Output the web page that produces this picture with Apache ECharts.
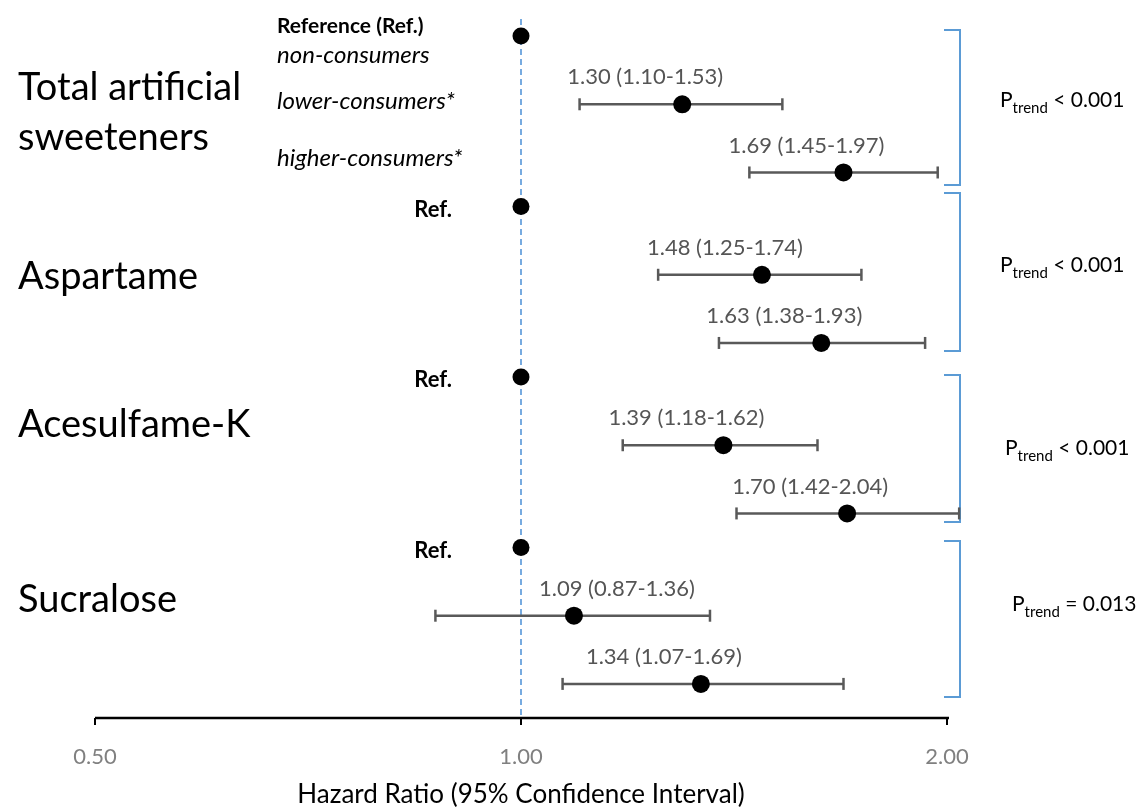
<!DOCTYPE html>
<html>
<head>
<meta charset="utf-8">
<script src="https://cdn.jsdelivr.net/npm/echarts@6/dist/echarts.min.js"></script>
<style>
html,body{margin:0;padding:0;background:#fff;}
#chart{width:1145px;height:809px;}
</style>
</head>
<body>
<div id="chart"></div>
<script>
// ---- data ----
const groups = ['Total artificial\nsweeteners', 'Aspartame', 'Acesulfame-K', 'Sucralose'];
const hrValues = [[1.30, 1.69], [1.48, 1.63], [1.39, 1.70], [1.09, 1.34]];
const ciLower  = [[1.10, 1.45], [1.25, 1.38], [1.18, 1.42], [0.87, 1.07]];
const ciUpper  = [[1.53, 1.97], [1.74, 1.93], [1.62, 2.04], [1.36, 1.69]];
const pTrend   = ['< 0.001', '< 0.001', '< 0.001', '= 0.013'];
const refValue = 1;
const xTicks = [0.5, 1, 2];
const subLabels = ['Reference (Ref.)', 'non-consumers', 'lower-consumers*', 'higher-consumers*'];
const refShort = 'Ref.';
const axisTitle = 'Hazard Ratio (95% Confidence Interval)';

// ---- layout (styles / positions) ----
const FONT = 'Lato, "Noto Sans", sans-serif';
const ROWS_PER_GROUP = 5;          // ref, lower, higher rows spaced in y units
const rowOffsets = [0, 2, 4];
const labelOffsetX = [[-37, -37], [-37, -37], [-37, -37], [43, -37]];
const groupLabelY = [113, 277, 425, 600];
const pTrendPos = [[1000, 100], [1000, 265], [1005, 448], [1012, 604]];
const bracketY = [[30, 185], [193, 351], [375, 522], [541, 697]];
const bracketX = 960, bracketHook = 16;
const axisLineEnd = 2.1;

const chart = echarts.init(document.getElementById('chart'));

const refPoints = [], estPoints = [], bars = [];
groups.forEach((g, gi) => {
  const base = gi * ROWS_PER_GROUP;
  refPoints.push([refValue, base + rowOffsets[0]]);
  for (let k = 0; k < 2; k++) {
    const row = base + rowOffsets[k + 1];
    estPoints.push({
      value: [hrValues[gi][k], row],
      lo: ciLower[gi][k], hi: ciUpper[gi][k],
      label: { offset: [labelOffsetX[gi][k], -2] }
    });
    bars.push([row, ciLower[gi][k], ciUpper[gi][k]]);
  }
});
const lastRow = (groups.length - 1) * ROWS_PER_GROUP + rowOffsets[2];

const option = {
  animation: false,
  backgroundColor: '#fff',
  grid: { left: 95, right: 198, top: 2, bottom: 91, outerBoundsMode: 'none', containLabel: false },
  xAxis: {
    type: 'log', logBase: 2, min: xTicks[0], max: xTicks[xTicks.length - 1],
    position: 'bottom',
    axisLine: { show: false, onZero: false },
    axisTick: { show: true, length: 7, lineStyle: { color: '#000', width: 2 } },
    splitLine: { show: false },
    axisLabel: {
      formatter: v => xTicks.some(t => Math.abs(t - v) < 1e-6) ? (+v).toFixed(2) : '',
      color: '#808080', fontSize: 22, fontFamily: FONT, margin: 28
    },
    name: axisTitle, nameLocation: 'middle', nameGap: 64,
    nameTextStyle: { color: '#000', fontSize: 26, fontFamily: FONT }
  },
  yAxis: {
    type: 'value', inverse: true, min: -1, max: lastRow + 1, show: false
  },
  series: [
    { // axis line (extends slightly past 2.00)
      type: 'line', data: [[xTicks[0], lastRow + 1], [axisLineEnd, lastRow + 1]],
      clip: false, symbol: 'none', lineStyle: { color: '#000', width: 2.5 }, z: 1, silent: true
    },
    { // reference dashed line
      type: 'line', data: [[refValue, -0.5], [refValue, lastRow + 1]],
      symbol: 'none', lineStyle: { color: '#4a8fd6', width: 1.5, type: [6, 4] }, z: 1, silent: true
    },
    { // CI error bars
      type: 'custom', data: bars, encode: { x: [1, 2], y: 0 }, z: 2,
      renderItem: (params, api) => {
        const y = api.value(0);
        const p1 = api.coord([api.value(1), y]);
        const p2 = api.coord([api.value(2), y]);
        const st = { stroke: '#595959', lineWidth: 2.5 };
        return { type: 'group', children: [
          { type: 'line', shape: { x1: p1[0], y1: p1[1], x2: p2[0], y2: p2[1] }, style: st },
          { type: 'line', shape: { x1: p1[0], y1: p1[1] - 6, x2: p1[0], y2: p1[1] + 6 }, style: st },
          { type: 'line', shape: { x1: p2[0], y1: p2[1] - 6, x2: p2[0], y2: p2[1] + 6 }, style: st }
        ]};
      }
    },
    { // reference points
      type: 'scatter', data: refPoints, symbolSize: 17, itemStyle: { color: '#000', opacity: 1 }, z: 3
    },
    { // estimates
      type: 'scatter', data: estPoints, symbolSize: 18, itemStyle: { color: '#000', opacity: 1 }, z: 3,
      label: {
        show: true, position: 'top', distance: 5,
        formatter: p => `${p.data.value[0].toFixed(2)} (${p.data.lo.toFixed(2)}-${p.data.hi.toFixed(2)})`,
        color: '#555', fontSize: 22, fontFamily: FONT
      }
    }
  ]
};
chart.setOption(option);

// ---- text and bracket decorations ----
const toPx = (x, y) => chart.convertToPixel({ xAxisIndex: 0, yAxisIndex: 0 }, [x, y]);
const g = [];
groups.forEach((name, gi) => {
  g.push({ type: 'text', left: 18, top: groupLabelY[gi] - (name.includes('\n') ? 50 : 25),
    style: { text: name, font: `38px ${FONT}`, fill: '#000', lineHeight: 50 } });
  const [bt, bb] = bracketY[gi];
  g.push({ type: 'polyline', shape: { points: [[bracketX - bracketHook, bt], [bracketX, bt], [bracketX, bb], [bracketX - bracketHook, bb]] },
    style: { stroke: '#5b9bd5', lineWidth: 2, fill: null } });
  g.push({ type: 'text', x: pTrendPos[gi][0], y: pTrendPos[gi][1],
    style: { text: `{p|P}{s|trend}{p| ${pTrend[gi]}}`, verticalAlign: 'middle',
      rich: { p: { fontSize: 21, fontFamily: FONT, fill: '#000', lineHeight: 32 },
              s: { fontSize: 15, fontFamily: FONT, fill: '#000', lineHeight: 16, verticalAlign: 'bottom' } } } });
  if (gi > 0) {
    const r = toPx(refValue, gi * ROWS_PER_GROUP);
    g.push({ type: 'text', x: 452, y: r[1] + 3,
      style: { text: refShort, font: `bold 22px ${FONT}`, fill: '#000', align: 'right', verticalAlign: 'middle' } });
  }
});
const subY = [26, 55, 101, 158];
const subSize = [21, 24, 24, 24];
subLabels.forEach((t, i) => {
  g.push({ type: 'text', x: 277, y: subY[i],
    style: { text: t, font: `${i === 0 ? 'bold' : 'italic'} ${subSize[i]}px ${FONT}`, fill: '#000', verticalAlign: 'middle' } });
});
chart.setOption({ graphic: g });
</script>
</body>
</html>
